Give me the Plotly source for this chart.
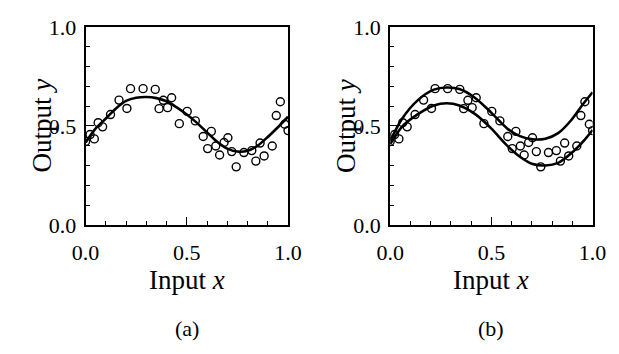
import plotly.graph_objects as go

# Observed data points (same sample shown in both panels)
obs_x = [0.000, 0.022, 0.043, 0.062, 0.084, 0.123, 0.165, 0.204, 0.222, 0.284, 0.344,
         0.363, 0.384, 0.405, 0.425, 0.463, 0.502, 0.542, 0.581, 0.603, 0.621, 0.643,
         0.662, 0.684, 0.703, 0.722, 0.744, 0.782, 0.821, 0.841, 0.862, 0.882, 0.922,
         0.942, 0.962, 0.984, 1.000]
obs_y = [0.421, 0.456, 0.434, 0.516, 0.495, 0.557, 0.630, 0.588, 0.688, 0.688, 0.684,
         0.587, 0.629, 0.592, 0.642, 0.511, 0.573, 0.525, 0.446, 0.385, 0.472, 0.398,
         0.353, 0.416, 0.440, 0.370, 0.293, 0.365, 0.375, 0.322, 0.413, 0.348, 0.398,
         0.552, 0.622, 0.508, 0.476]

# Panel (a): single fitted curve
fit_x = [0.00, 0.05, 0.10, 0.15, 0.20, 0.25, 0.30, 0.35, 0.40, 0.45, 0.50,
         0.55, 0.60, 0.65, 0.70, 0.75, 0.80, 0.85, 0.90, 0.95, 1.00]
fit_a = [0.416, 0.487, 0.537, 0.588, 0.626, 0.642, 0.646, 0.640, 0.624, 0.593, 0.557,
         0.515, 0.467, 0.420, 0.385, 0.370, 0.374, 0.400, 0.444, 0.493, 0.546]

# Panel (b): upper and lower curves
band_x = [0.000, 0.058, 0.137, 0.216, 0.279, 0.342, 0.420, 0.499, 0.578, 0.641,
          0.704, 0.767, 0.830, 0.893, 0.956, 1.000]
upper_b = [0.424, 0.535, 0.630, 0.683, 0.694, 0.686, 0.641, 0.567, 0.487, 0.448,
           0.432, 0.435, 0.463, 0.527, 0.614, 0.670]
lower_b = [0.408, 0.495, 0.559, 0.603, 0.614, 0.603, 0.559, 0.487, 0.400, 0.344,
           0.307, 0.300, 0.313, 0.360, 0.424, 0.479]

tick_vals = [0.0, 0.5, 1.0]
tick_text = ["0.0", "0.5", "1.0"]
x_title = "Input <i>x</i>"
y_title = "Output <i>y</i>"
panel_labels = ["(a)", "(b)"]

W, H = 619, 354
FONT = "Liberation Serif"

fig = go.Figure()

line_style = dict(color="black", width=2.6, shape="spline", smoothing=0.8)
marker_style = dict(symbol="circle-open", size=8, color="black", line=dict(width=1.4, color="black"))

# Panel (a)
fig.add_trace(go.Scatter(x=obs_x, y=obs_y, mode="markers", marker=marker_style,
                         xaxis="x", yaxis="y", showlegend=False))
fig.add_trace(go.Scatter(x=fit_x, y=fit_a, mode="lines", line=line_style,
                         xaxis="x", yaxis="y", showlegend=False))
# Panel (b)
fig.add_trace(go.Scatter(x=obs_x, y=obs_y, mode="markers", marker=marker_style,
                         xaxis="x2", yaxis="y2", showlegend=False))
fig.add_trace(go.Scatter(x=band_x, y=upper_b, mode="lines", line=line_style,
                         xaxis="x2", yaxis="y2", showlegend=False))
fig.add_trace(go.Scatter(x=band_x, y=lower_b, mode="lines", line=line_style,
                         xaxis="x2", yaxis="y2", showlegend=False))

def px_x(p):
    return p / W

def px_y(p):
    return 1 - p / H

top, bottom = 16, 229
common = dict(
    range=[0, 1], showgrid=False, zeroline=False, showline=True, linecolor="black",
    linewidth=2, mirror=True, ticks="inside", ticklen=8, tickwidth=1.2, tickcolor="black",
    tickvals=tick_vals, ticktext=tick_text,
    tickfont=dict(family=FONT, size=22, color="black"),
    minor=dict(dtick=0.1, ticks="inside", ticklen=4, tickwidth=1.2, tickcolor="black"),
)
xcommon = dict(common, ticklabelstandoff=7)
ycommon = dict(common, ticklabelstandoff=3)

panels = [(75, 287), (394, 606)]

annotations = []
for i, (l, r) in enumerate(panels):
    cx = (l + r) / 2
    annotations.append(dict(text=x_title, x=px_x(cx), y=px_y(288), xref="paper", yref="paper",
                            xanchor="center", yanchor="middle",
                            showarrow=False, font=dict(family=FONT, size=27, color="black")))
    annotations.append(dict(text=panel_labels[i], x=px_x(cx), y=px_y(341), xref="paper", yref="paper",
                            xanchor="center", yanchor="middle",
                            showarrow=False, font=dict(family=FONT, size=22, color="black")))
    annotations.append(dict(text=y_title, x=px_x(l - 46), y=px_y((top + bottom) / 2),
                            xref="paper", yref="paper", textangle=-90,
                            xanchor="center", yanchor="middle",
                            showarrow=False, font=dict(family=FONT, size=27, color="black")))

fig.update_layout(
    width=W, height=H,
    margin=dict(l=0, r=0, t=0, b=0),
    paper_bgcolor="white", plot_bgcolor="white",
    font=dict(family=FONT, color="black"),
    xaxis=dict(domain=[px_x(panels[0][0]), px_x(panels[0][1])], anchor="y", **xcommon),
    yaxis=dict(domain=[px_y(bottom), px_y(top)], anchor="x", **ycommon),
    xaxis2=dict(domain=[px_x(panels[1][0]), px_x(panels[1][1])], anchor="y2", **xcommon),
    yaxis2=dict(domain=[px_y(bottom), px_y(top)], anchor="x2", **ycommon),
    annotations=annotations,
)

fig.write_html("out.html")
